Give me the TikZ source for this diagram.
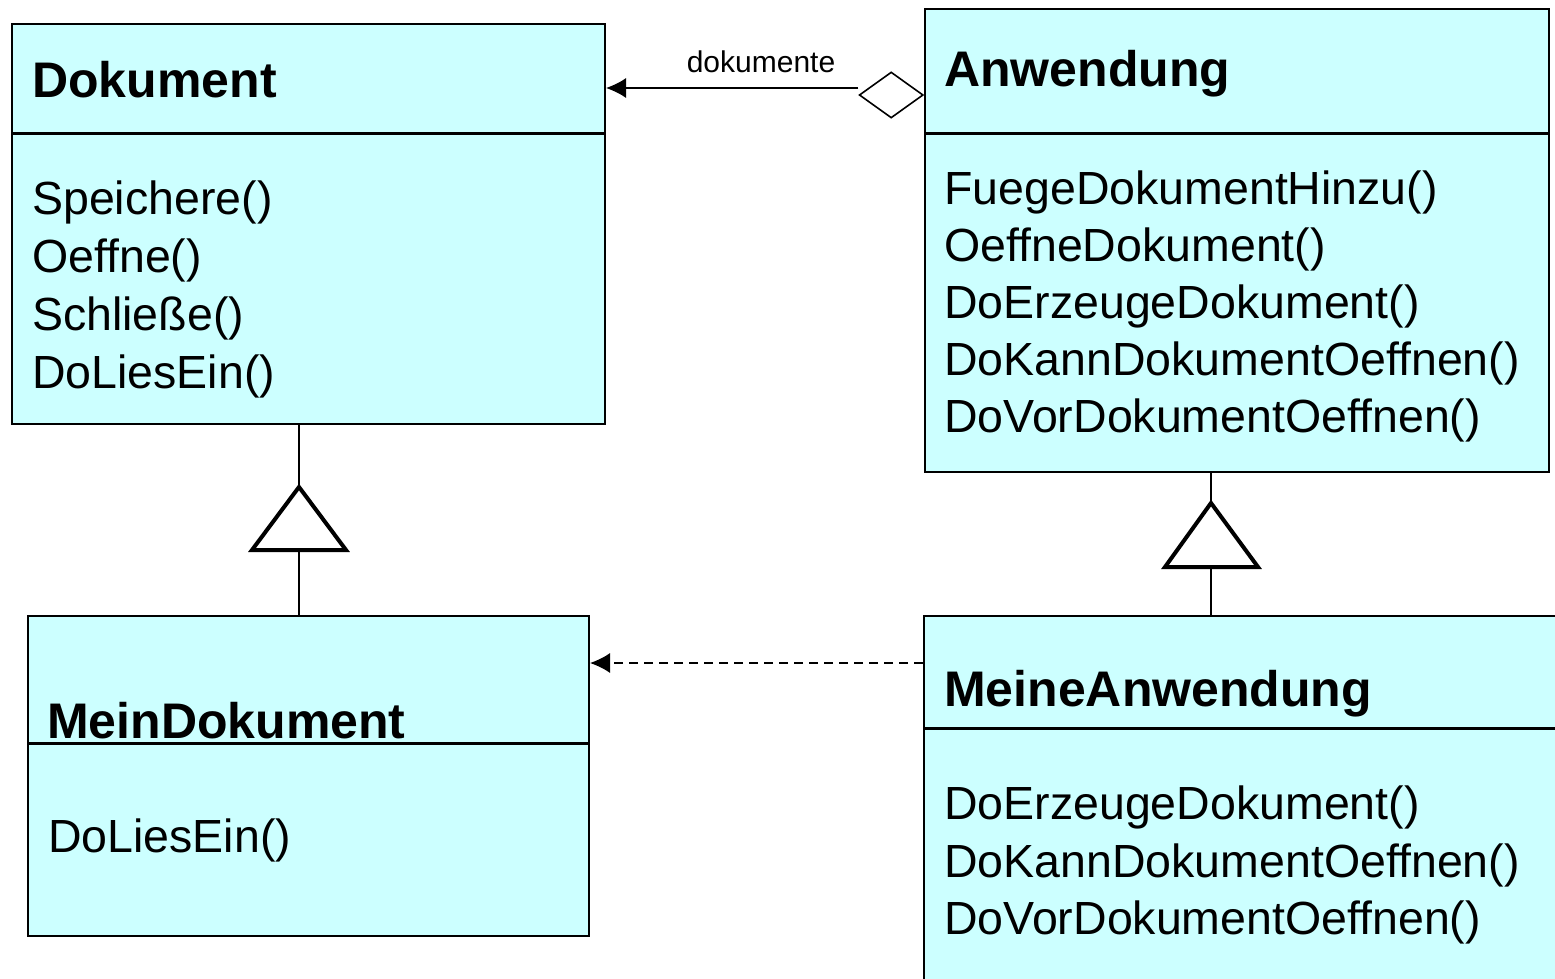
\documentclass[tikz,border=0pt]{standalone}
\usepackage{fontspec}
\setmainfont{Liberation Sans}
\usetikzlibrary{arrows.meta,shapes.geometric}
\definecolor{boxfill}{HTML}{CCFFFF}
\tikzset{
  classbox/.style={draw=black, line width=2pt, fill=boxfill, anchor=north west, inner sep=0pt},
  divider/.style={line width=3pt},
  ctitle/.style={anchor=base west, inner sep=0pt, font=\fontsize{50}{58}\selectfont\bfseries},
  cmeth/.style={anchor=base west, inner sep=0pt, font=\fontsize{46.5}{58}\selectfont},
  conn/.style={line width=1.6pt},
  gentri/.style={line width=4pt, fill=white, line join=miter},
  tip/.style={-{Latex[length=20pt,width=20pt]}},
}
\begin{document}
\begin{tikzpicture}[x=1pt,y=-1pt]
\useasboundingbox (0,0) rectangle (1555,979);
\clip (0,0) rectangle (1555,979);
\fill[white] (0,0) rectangle (1555,979);

% Dokument
\node[classbox, minimum width=593pt, minimum height=400pt] (dok) at (11,23) {};
\draw[divider] (11,134) -- (604,134);
\node[ctitle] (dokt) at (32,98) {Dokument};
\node[cmeth] (dok1) at (32,214) {Speichere()};
\node[cmeth] (dok2) at (32,272) {Oeffne()};
\node[cmeth] (dok3) at (32,330) {Schließe()};
\node[cmeth] (dok4) at (32,388) {DoLiesEin()};

% Anwendung
\node[classbox, minimum width=624pt, minimum height=463pt] (anw) at (924,8) {};
\draw[divider] (924,134) -- (1548,134);
\node[ctitle] (anwt) at (944,87) {Anwendung};
\node[cmeth] (anw1) at (944,204) {FuegeDokumentHinzu()};
\node[cmeth] (anw2) at (944,261) {OeffneDokument()};
\node[cmeth] (anw3) at (944,318) {DoErzeugeDokument()};
\node[cmeth] (anw4) at (944,375) {DoKannDokumentOeffnen()};
\node[cmeth] (anw5) at (944,432) {DoVorDokumentOeffnen()};

% MeinDokument
\node[classbox, minimum width=561pt, minimum height=320pt] (mdok) at (27,615) {};
\draw[divider] (27,743) -- (588,743);
\node[ctitle] (mdokt) at (47,738) {MeinDokument};
\node[cmeth] (mdok1) at (48,852) {DoLiesEin()};

% MeineAnwendung (runs past the picture edge)
\node[classbox, minimum width=680pt, minimum height=420pt] (manw) at (923,615) {};
\draw[divider] (923,728) -- (1600,728);
\node[ctitle] (manwt) at (944,706) {MeineAnwendung};
\node[cmeth] (manw1) at (944,819) {DoErzeugeDokument()};
\node[cmeth] (manw2) at (944,877) {DoKannDokumentOeffnen()};
\node[cmeth] (manw3) at (944,934) {DoVorDokumentOeffnen()};

% aggregation
\node[diamond, draw, line width=1.6pt, fill=white, minimum width=64pt, minimum height=46pt, inner sep=0pt, anchor=east] (diam) at (anw.west |- 0,95) {};
\draw[conn, tip] (diam.west) ++(0,-7) coordinate (aggs) -- (dok.east |- aggs);
\node[inner sep=0pt, font=\fontsize{30}{34}\selectfont] (agglab) at (761,62) {dokumente};

% generalisation Dokument
\coordinate (g1a) at (299,487);
\draw[conn] (dok.south -| g1a) -- (g1a);
\draw[conn] (mdok.north -| g1a) -- (299,550);
\draw[gentri] (g1a) -- (346,550) -- (252,550) -- cycle;

% generalisation Anwendung
\coordinate (g2a) at (1211,503);
\draw[conn] (anw.south -| g2a) -- (g2a);
\draw[conn] (manw.north -| g2a) -- (1211,567);
\draw[gentri] (g2a) -- (1258,567) -- (1165,567) -- cycle;

% dependency
\draw[conn, tip, dash pattern=on 9pt off 6pt] (manw.west |- 0,663) coordinate (deps) -- (mdok.east |- deps);
\end{tikzpicture}
\end{document}
